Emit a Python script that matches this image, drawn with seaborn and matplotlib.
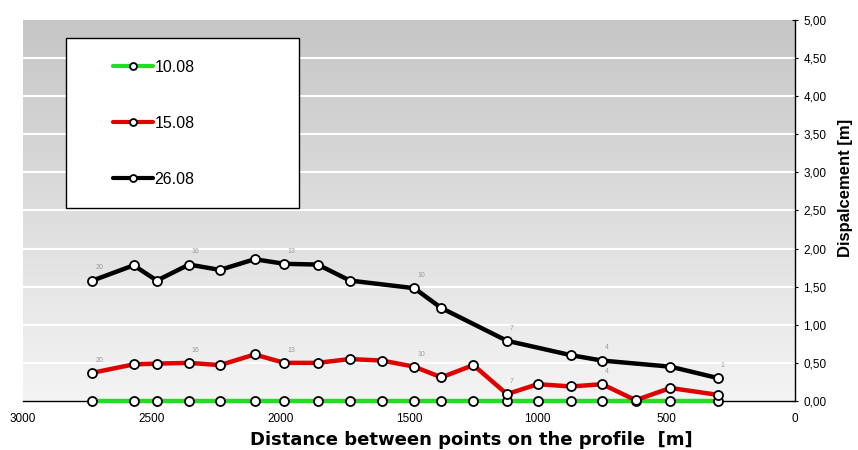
import numpy as np
import pandas as pd
import seaborn as sns
import matplotlib.pyplot as plt
from matplotlib.patches import Rectangle
from matplotlib.colors import LinearSegmentedColormap
from matplotlib.ticker import FuncFormatter, MultipleLocator

# distances of the measured points along the profile [m]
dist = [2730, 2570, 2480, 2355, 2235, 2100, 1985, 1855, 1730, 1605,
        1480, 1375, 1250, 1120, 1000, 870, 750, 620, 485, 300]

disp_1008 = [0.0] * 20
disp_1508 = [0.37, 0.48, 0.49, 0.50, 0.47, 0.61, 0.50, 0.50, 0.55, 0.53,
             0.45, 0.31, 0.47, 0.09, 0.22, 0.19, 0.22, 0.01, 0.17, 0.08]
# black series has no value at some points
disp_2608 = [1.58, 1.78, 1.58, 1.79, 1.72, 1.86, 1.80, 1.79, 1.58, None,
             1.48, 1.22, None, 0.79, None, 0.60, 0.53, None, 0.45, 0.30]

series_names = ["10.08", "15.08", "26.08"]
series_colors = ["#22dd22", "#e00000", "#000000"]

# point numbers written next to some points
label_idx = [0, 3, 6, 10, 13, 16, 19]
label_txt = ["20", "16", "13", "10", "7", "4", "1"]

sns.set_style("white")
plt.rcParams["font.family"] = ["Liberation Sans", "DejaVu Sans"]

fig = plt.figure(figsize=(8.58, 4.5), dpi=100)
ax = fig.add_axes([0.0268, 0.109, 0.9, 0.8466])

# gray gradient background
grad = np.linspace(0, 1, 256).reshape(-1, 1)
bg = LinearSegmentedColormap.from_list("bg", ["#f4f4f4", "#c6c6c6"])
ax.imshow(grad, cmap=bg, aspect="auto", extent=[0, 1, 0, 1],
          transform=ax.transAxes, origin="lower", zorder=0)

for v in np.arange(0.5, 5.0, 0.5):
    ax.axhline(v, color="white", lw=1.5, zorder=1)

for name, vals, col in zip(series_names, [disp_1008, disp_1508, disp_2608], series_colors):
    df = pd.DataFrame({"dist": dist, "disp": vals}).dropna()
    sns.lineplot(data=df, x="dist", y="disp", ax=ax, color=col, lw=3.2,
                 marker="o", markersize=6.5, markerfacecolor="white",
                 markeredgecolor="black", markeredgewidth=1.3,
                 label=name, zorder=3, sort=False, clip_on=False)

    if name != "10.08":
        for i, t in zip(label_idx, label_txt):
            if vals[i] is None:
                continue
            if name == "15.08" and t == "1":
                continue
            ax.annotate(t, (dist[i], vals[i]), xytext=(2, 8), textcoords="offset points",
                        fontsize=5, color="#9a9a9a", zorder=4)

ax.set_xlim(3000, 0)
ax.set_ylim(0, 5)
ax.xaxis.set_major_locator(MultipleLocator(500))
ax.yaxis.set_major_locator(MultipleLocator(0.5))
ax.yaxis.tick_right()
ax.yaxis.set_label_position("right")
ax.yaxis.set_major_formatter(FuncFormatter(lambda v, p: f"{v:.2f}".replace(".", ",")))
ax.tick_params(axis="both", direction="inout", length=4, width=0.8, labelsize=8.5,
               colors="black", pad=4)
ax.tick_params(axis="y", left=False, right=True)
ax.tick_params(axis="x", pad=7)

for s in ["top", "left"]:
    ax.spines[s].set_visible(False)
for s in ["bottom", "right"]:
    ax.spines[s].set_color("black")
    ax.spines[s].set_linewidth(1.0)

ax.set_xlabel("Distance between points on the profile  [m]", fontsize=13,
              fontweight="bold", color="black", family="DejaVu Sans")
ax.set_ylabel("Dispalcement [m]", fontsize=12, fontweight="bold", color="black")
ax.xaxis.set_label_coords(0.58, -0.078)
ax.yaxis.set_label_coords(1.055, 0.56)

ax.add_patch(Rectangle((0.0557, 0.5066), 0.302, 0.446, transform=ax.transAxes,
                       facecolor="white", edgecolor="black", lw=1.0, zorder=5))
leg = ax.legend(loc="upper left", bbox_to_anchor=(0.1166, 0.895), frameon=False,
                fontsize=11.5, handlelength=2.5, handletextpad=0.1, labelspacing=2.56,
                borderpad=0, borderaxespad=0, numpoints=1, labelcolor="black")
leg.set_zorder(6)
for h in leg.legend_handles:
    h.set_markersize(5)
    h.set_linewidth(3)

fig.savefig("out.png", dpi=100)
